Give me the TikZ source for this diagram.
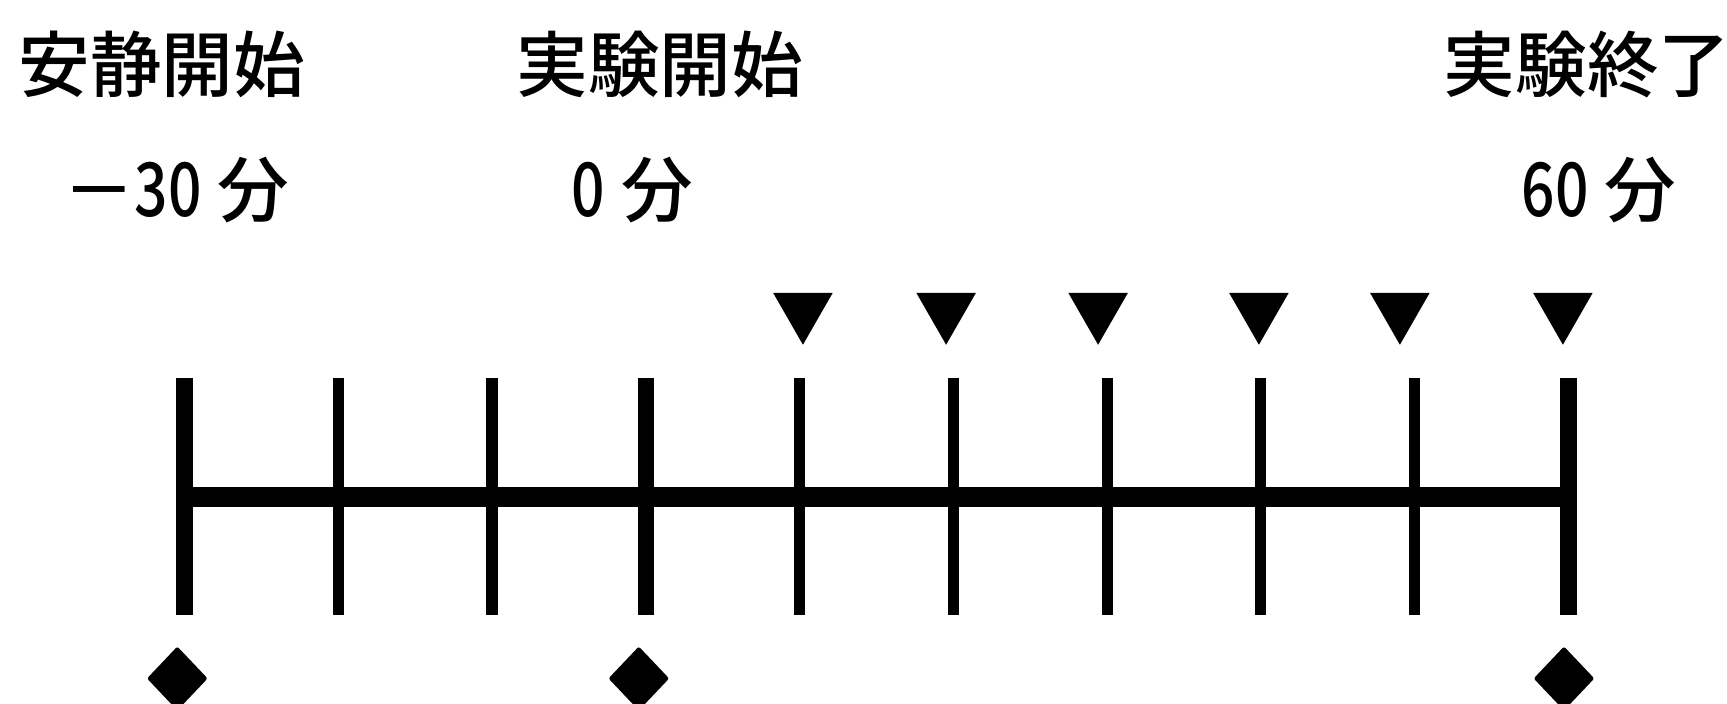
\documentclass[tikz,border=0pt]{standalone}
\usepackage{fontspec}
\usepackage{graphicx}
\newfontfamily\jp{Noto Sans CJK JP}[UprightFont=* Medium]
\newcommand{\nrw}[1]{\scalebox{0.82}[1.04]{#1}}
\begin{document}
\begin{tikzpicture}[x=1pt,y=1pt,
  lbl/.style={font=\jp\fontsize{65}{70}\selectfont, inner sep=0pt, anchor=base},
  thicktick/.style={line width=15pt},
  thintick/.style={line width=10pt},
  axisline/.style={line width=18pt},
  tri/.pic={\fill (-27,0) -- (27,0) -- (0,-47) -- cycle;},
  dia/.pic={\fill[rounded corners=2pt] (0,29) -- (27.5,0) -- (0,-29) -- (-27.5,0) -- cycle;},
]
\useasboundingbox (0,0) rectangle (1568,-639);
% labels
\node[lbl] (l1) at (147,-83) {安静開始};
\node[lbl] (l2) at (599,-83) {実験開始};
\node[lbl] (l3) at (1441,-83) {実験終了};
\node[lbl] (t1) at (160,-197) {－\nrw{30} 分};
\node[lbl] (t2) at (574,-197) {\nrw{0} 分};
\node[lbl] (t3) at (1452,-197) {\nrw{60} 分};
% tick coordinates
\foreach \i in {0,...,9} {
  \coordinate (top\i) at ({167.5+139.6*\i},-343);
  \coordinate (bot\i) at ({167.5+139.6*\i},-558);
}
\coordinate (axL) at (167.5,-451);
\coordinate (axR) at (1424,-451);
\draw[axisline] (axL) -- (axR);
\foreach \i in {0,3,9} \draw[thicktick] (top\i) -- (bot\i);
\foreach \i in {1,2,4,5,6,7,8} \draw[thintick] (top\i) -- (bot\i);
% triangles
\foreach \x [count=\k] in {729,859,997,1143,1271,1419}
  \pic (m\k) at (\x,-266) {tri};
% diamonds
\foreach \x [count=\k] in {161,580,1420}
  \pic (d\k) at (\x,-616) {dia};
\end{tikzpicture}
\end{document}
